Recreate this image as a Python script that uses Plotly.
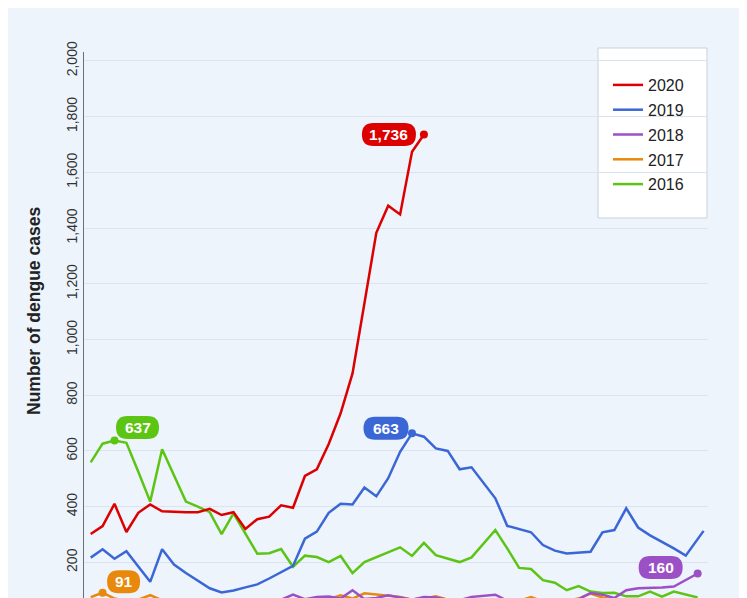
import plotly.graph_objects as go

# weekly dengue case counts (week number on x)
weeks = list(range(1, 53))
weeks_2019 = list(range(1, 52)) + [52.5]
weeks_2020 = list(range(1, 30))

cases_2020 = [302, 330, 410, 309, 378, 408, 383, 381, 380, 380, 392, 370, 380, 320, 355,
              364, 405, 396, 510, 534, 625, 735, 878, 1130, 1383, 1480, 1449, 1674, 1736]
cases_2019 = [217, 247, 213, 240, 185, 130, 247, 192, 162, 135, 107, 92, 99, 110, 121,
              142, 164, 187, 285, 310, 378, 410, 408, 469, 437, 502, 597, 663, 651, 609,
              600, 534, 541, 485, 430, 331, 320, 308, 262, 242, 232, 235, 238, 308, 316,
              394, 325, 297, 275, 250, 224, 313]
cases_2018 = [40, 42, 45, 44, 48, 50, 46, 44, 42, 45, 48, 50, 52, 55, 58, 60, 66, 84, 68,
              76, 77, 70, 100, 68, 72, 82, 74, 66, 76, 74, 66, 64, 76, 80, 84, 62, 58, 55,
              56, 60, 62, 68, 90, 84, 72, 100, 107, 108, 110, 113, 135, 160]
cases_2017 = [75, 91, 70, 62, 66, 82, 64, 58, 55, 52, 50, 48, 50, 46, 52, 55, 60, 58, 62,
              65, 68, 82, 70, 89, 84, 80, 76, 66, 70, 78, 66, 60, 58, 55, 52, 58, 62, 75,
              60, 56, 62, 70, 88, 74, 66, 60, 58, 55, 52, 50, 54, 56]
cases_2016 = [559, 626, 637, 629, 525, 418, 606, 512, 418, 400, 380, 301, 376, 303, 231,
              233, 248, 184, 224, 219, 201, 223, 161, 201, 219, 237, 254, 223, 270, 226,
              214, 201, 218, 267, 316, 250, 180, 176, 136, 127, 100, 115, 95, 90, 91, 78,
              78, 95, 77, 95, 85, 74]

y_ticks = [200, 400, 600, 800, 1000, 1200, 1400, 1600, 1800, 2000]

series = [
    ("2016", weeks, cases_2016, "#5cc514"),
    ("2017", weeks, cases_2017, "#e8890c"),
    ("2018", weeks, cases_2018, "#9b50c6"),
    ("2019", weeks_2019, cases_2019, "#3b67d6"),
    ("2020", weeks_2020, cases_2020, "#dc0000"),
]

# point index that gets a pill label, pill centre offset (px, up = +) and pill width
callouts = {
    "2020": (28, -35, 0, 54),
    "2019": (27, -26, 5, 45),
    "2018": (51, -37, 6, 44),
    "2017": (1, 21, 11, 33),
    "2016": (2, 23, 13, 43),
}

FONT = "Liberation Sans, Arial, sans-serif"
BG = "#edf4fc"
PAGE_PAD = 8  # browser body margin around the plot div

fig = go.Figure()

# newest year drawn last (on top) but listed first in the legend
for rank, (name, xs, ys, color) in enumerate(series):
    fig.add_trace(go.Scatter(
        x=xs, y=ys, mode="lines", name=name, legendgroup=name,
        legendrank=1000 - rank,
        line=dict(color=color, width=2.5),
        hoverinfo="skip",
    ))

for name, xs, ys, color in series:
    idx, dx, dy, w = callouts[name]
    px, py = xs[idx], ys[idx]
    fig.add_trace(go.Scatter(
        x=[px], y=[py], mode="markers", showlegend=False, hoverinfo="skip",
        marker=dict(color=color, size=8),
    ))
    # rounded pill drawn in pixel space around the point
    r = 11.5
    hw = w / 2
    path = (f"M{dx - hw + r},{dy - r} L{dx + hw - r},{dy - r} "
            f"Q{dx + hw},{dy - r} {dx + hw},{dy} Q{dx + hw},{dy + r} {dx + hw - r},{dy + r} "
            f"L{dx - hw + r},{dy + r} Q{dx - hw},{dy + r} {dx - hw},{dy} "
            f"Q{dx - hw},{dy - r} {dx - hw + r},{dy - r} Z")
    fig.add_shape(
        type="path", xref="x", yref="y", xsizemode="pixel", ysizemode="pixel",
        xanchor=px, yanchor=py, path=path,
        fillcolor=color, line=dict(width=0), layer="above",
    )
    fig.add_annotation(
        x=px, y=py, xref="x", yref="y", text=f"<b>{py:,}</b>", showarrow=False,
        xshift=dx, yshift=dy, font=dict(family=FONT, size=15.5, color="white"),
    )

# legend frame
fig.add_shape(type="rect", xref="paper", yref="paper",
              x0=(598 - 84) / 624, x1=(707 - 84) / 624,
              y0=(598 - 218) / 546, y1=(598 - 48) / 546,
              fillcolor="white", line=dict(color="#c9d1dc", width=1), layer="below")

fig.add_annotation(
    xref="paper", yref="paper", x=(34 - 84) / 624, y=(598 - 311) / 546,
    xanchor="center", yanchor="middle",
    text="<b>Number of dengue cases</b>", showarrow=False, textangle=-90,
    font=dict(family=FONT, size=17.5, color="#222222"),
)

fig.update_layout(
    width=747 - PAGE_PAD, height=598 - PAGE_PAD,
    margin=dict(l=84 - PAGE_PAD, r=39, t=52 - PAGE_PAD, b=0),
    paper_bgcolor=BG, plot_bgcolor=BG,
    font=dict(family=FONT, color="#333333"),
    showlegend=True,
    legend=dict(
        x=(608 - 84) / 624, y=(598 - 68) / 546, xanchor="left", yanchor="top",
        bgcolor="rgba(0,0,0,0)", borderwidth=0, traceorder="grouped",
        tracegroupgap=1, font=dict(family=FONT, size=16, color="#222222"),
    ),
    xaxis=dict(range=[0.437, 52.87], showgrid=False, showticklabels=False,
               zeroline=False, showline=False),
    yaxis=dict(range=[72, 2032], tickvals=y_ticks, tickformat=",d", tickangle=-90,
               showgrid=True, gridcolor="#dbe3ee", gridwidth=1, zeroline=False,
               showline=True, linecolor="#6b6f75", linewidth=1,
               tickfont=dict(family=FONT, size=14, color="#333333")),
)

fig.write_html("out.html")
